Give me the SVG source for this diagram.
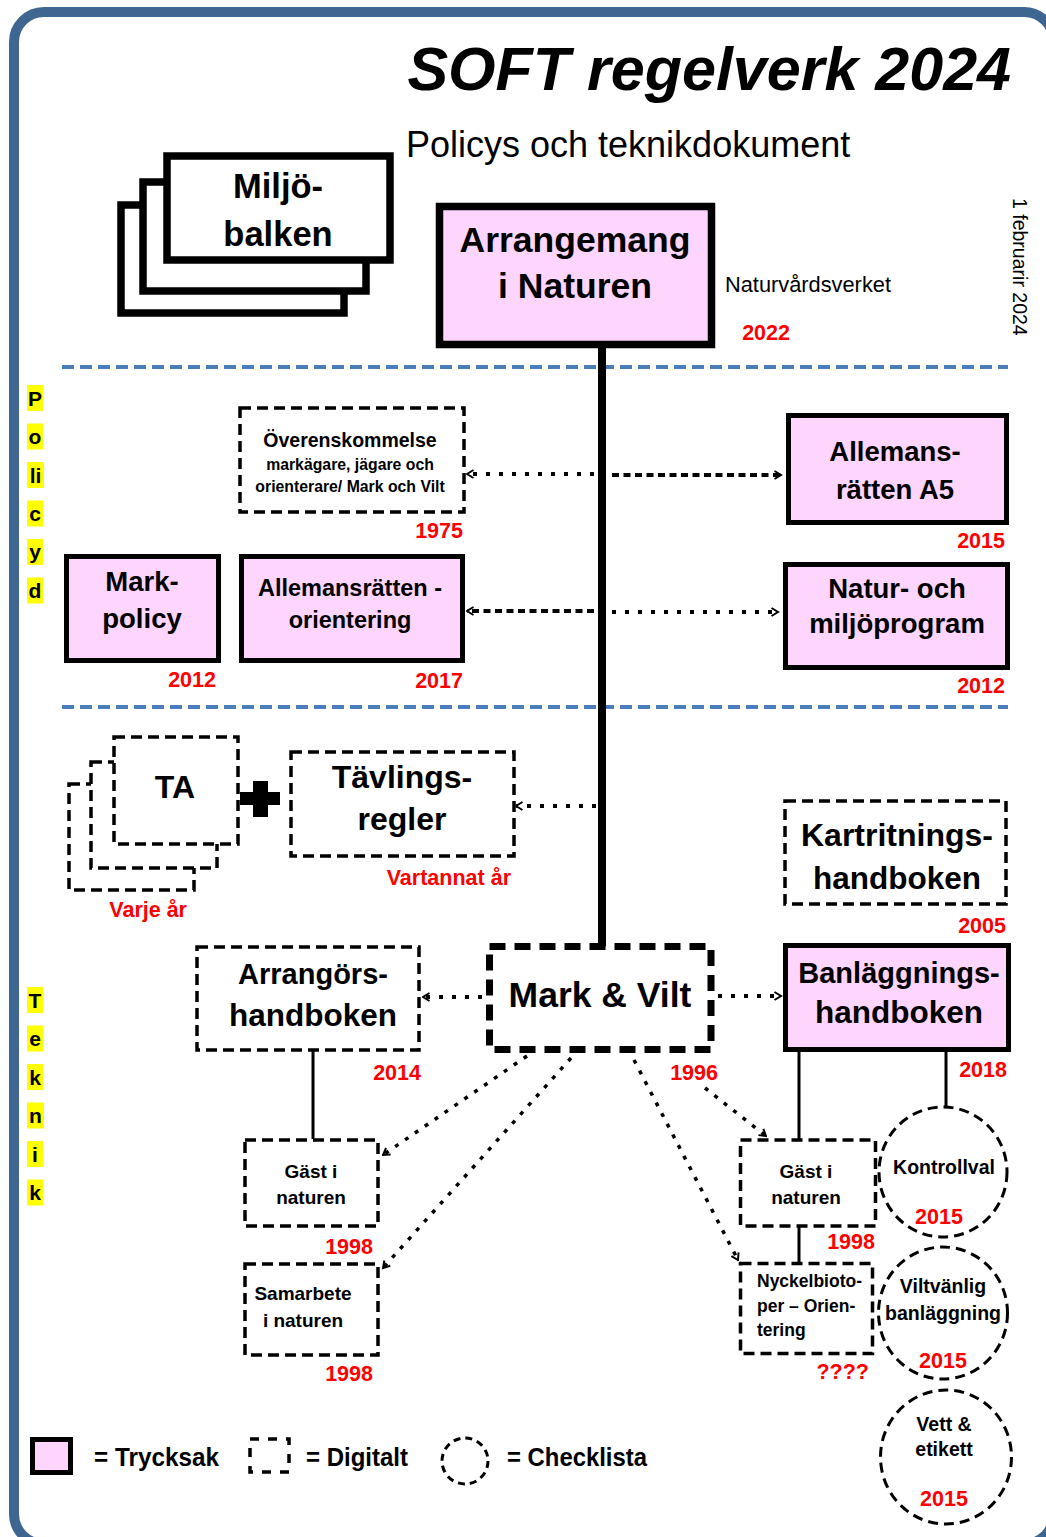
<svg xmlns="http://www.w3.org/2000/svg" width="1046" height="1537" viewBox="0 0 1046 1537">
<style>
.t{font-family:"Liberation Sans",Arial,sans-serif;font-weight:bold;fill:#000;text-anchor:middle}
.yr{font-family:"Liberation Sans",Arial,sans-serif;font-weight:bold;fill:#FF0000;font-size:21.5px;text-anchor:end}
.dbox{fill:#fff;stroke:#000;stroke-width:3.5;stroke-dasharray:11 6}
.pbox{fill:#FDD5FD;stroke:#000;stroke-width:5}
.circ{fill:#fff;stroke:#000;stroke-width:3;stroke-dasharray:10 6}
.dot{fill:none;stroke:#000;stroke-width:4;stroke-dasharray:4 9}
.dash{fill:none;stroke:#000;stroke-width:4;stroke-dasharray:7 4.5}
.diag{fill:none;stroke:#000;stroke-width:3.5;stroke-dasharray:4 8}
.solid{fill:none;stroke:#000;stroke-width:3}
.sep{fill:none;stroke:#4A7EBB;stroke-width:4;stroke-dasharray:12 6}
.yl{fill:#FFFF00}
</style>
<defs>
<marker id="ah" markerUnits="userSpaceOnUse" viewBox="0 0 10 10" refX="8.5" refY="5" markerWidth="10" markerHeight="10" orient="auto">
<path d="M2,1 L8.5,5 L2,9" fill="none" stroke="#000" stroke-width="2"/>
</marker>
</defs>
<rect x="0" y="0" width="1046" height="1537" fill="#fff"/>
<rect x="14" y="12" width="1040" height="1532" rx="30" fill="none" stroke="#3F6591" stroke-width="10"/>

<!-- title -->
<text x="1011" y="90" font-family="Liberation Sans, Arial, sans-serif" font-weight="bold" font-style="italic" font-size="61" text-anchor="end">SOFT regelverk 2024</text>
<text x="406" y="157" font-family="Liberation Sans, Arial, sans-serif" font-size="36">Policys och teknikdokument</text>
<text transform="translate(1013,198) rotate(90)" font-family="Liberation Sans, Arial, sans-serif" font-size="19.5">1 februarir 2024</text>

<!-- separators -->
<line class="sep" x1="62" y1="367" x2="1008" y2="367"/>
<line class="sep" x1="62" y1="707" x2="1008" y2="707"/>

<!-- side labels -->
<g id="label-policyd">
<rect class="yl" x="27" y="385" width="16" height="26"/>
<rect class="yl" x="27" y="423.5" width="16" height="26"/>
<rect class="yl" x="27" y="462" width="17" height="26"/>
<rect class="yl" x="27" y="500.5" width="16" height="26"/>
<rect class="yl" x="27" y="539" width="16" height="26"/>
<rect class="yl" x="27" y="577.5" width="16" height="26"/>
<text class="t" font-size="21" x="35" y="406">P</text>
<text class="t" font-size="21" x="35" y="444">o</text>
<text class="t" font-size="21" x="35.5" y="483">li</text>
<text class="t" font-size="21" x="35" y="521">c</text>
<text class="t" font-size="21" x="35" y="559">y</text>
<text class="t" font-size="21" x="35" y="598">d</text>
</g>
<g id="label-teknik">
<rect class="yl" x="27" y="987" width="16" height="26"/>
<rect class="yl" x="27" y="1025.5" width="16" height="26"/>
<rect class="yl" x="27" y="1064" width="16" height="26"/>
<rect class="yl" x="27" y="1102.5" width="17" height="26"/>
<rect class="yl" x="27" y="1141" width="16" height="26"/>
<rect class="yl" x="27" y="1179.5" width="16" height="26"/>
<text class="t" font-size="21" x="35" y="1008">T</text>
<text class="t" font-size="21" x="35" y="1046">e</text>
<text class="t" font-size="21" x="35" y="1085">k</text>
<text class="t" font-size="21" x="35.5" y="1123">n</text>
<text class="t" font-size="21" x="35" y="1162">i</text>
<text class="t" font-size="21" x="35" y="1200">k</text>
</g>

<!-- connectors -->
<g id="connectors">
<line x1="602" y1="345" x2="602" y2="947" stroke="#000" stroke-width="8"/>
<line class="dot" x1="594" y1="474" x2="467" y2="474" marker-end="url(#ah)"/>
<line class="dash" x1="612" y1="475" x2="781" y2="475" marker-end="url(#ah)"/>
<line class="dash" x1="594" y1="611" x2="467" y2="611" marker-end="url(#ah)"/>
<line class="dot" x1="612" y1="612" x2="778" y2="612" marker-end="url(#ah)"/>
<line class="dot" x1="596" y1="806" x2="516" y2="806" marker-end="url(#ah)"/>
<line class="dot" x1="482" y1="997" x2="423" y2="997" marker-end="url(#ah)"/>
<line class="dot" x1="718" y1="996" x2="781" y2="996" marker-end="url(#ah)"/>
<line class="diag" x1="527" y1="1056" x2="383" y2="1155" marker-end="url(#ah)"/>
<line class="diag" x1="571" y1="1058" x2="383" y2="1268" marker-end="url(#ah)"/>
<line class="diag" x1="634" y1="1060" x2="738" y2="1260" marker-end="url(#ah)"/>
<line class="diag" x1="705" y1="1088" x2="766" y2="1136" marker-end="url(#ah)"/>
<line class="solid" x1="313" y1="1050" x2="313" y2="1139"/>
<line class="solid" x1="799" y1="1050" x2="799" y2="1139"/>
<line class="solid" x1="946" y1="1050" x2="946" y2="1107"/>
<line class="solid" x1="799" y1="1227" x2="799" y2="1262"/>
</g>

<!-- nodes -->
<g id="miljobalken">
<rect x="121" y="205" width="223" height="108" fill="#fff" stroke="#000" stroke-width="7.5"/>
<rect x="143" y="182" width="223" height="109" fill="#fff" stroke="#000" stroke-width="7.5"/>
<rect x="167" y="156" width="223" height="104" fill="#fff" stroke="#000" stroke-width="7.5"/>
<text class="t" font-size="34.5" x="278" y="198">Miljö-</text>
<text class="t" font-size="34.5" x="278" y="246">balken</text>
</g>

<g id="arrangemang">
<rect x="439.5" y="206.5" width="272" height="138" fill="#FDD5FD" stroke="#000" stroke-width="7.5"/>
<text class="t" font-size="35.5" x="575" y="252">Arrangemang</text>
<text class="t" font-size="35.5" x="575" y="298">i Naturen</text>
<text x="725" y="292" font-family="Liberation Sans, Arial, sans-serif" font-size="21.8">Naturvårdsverket</text>
<text class="yr" x="790" y="340">2022</text>
</g>

<g id="overenskommelse">
<rect class="dbox" x="240" y="408" width="224" height="104"/>
<text class="t" font-size="19.5" x="350" y="447">Överenskommelse</text>
<text class="t" font-size="15.8" x="350" y="470">markägare, jägare och</text>
<text class="t" font-size="15.8" x="350" y="492">orienterare/ Mark och Vilt</text>
<text class="yr" x="463" y="538">1975</text>
</g>

<g id="allemansratten-a5">
<rect class="pbox" x="788.5" y="415.5" width="218" height="107"/>
<text class="t" font-size="27.5" x="895" y="461">Allemans-</text>
<text class="t" font-size="27.5" x="895" y="499">rätten A5</text>
<text class="yr" x="1005" y="548">2015</text>
</g>

<g id="markpolicy">
<rect class="pbox" x="66.5" y="556.5" width="152" height="104"/>
<text class="t" font-size="27.5" x="142" y="591">Mark-</text>
<text class="t" font-size="27.5" x="142" y="628">policy</text>
<text class="yr" x="216" y="687">2012</text>
</g>

<g id="allemansratten-orientering">
<rect class="pbox" x="241.5" y="556.5" width="221" height="104"/>
<text class="t" font-size="23.5" x="350" y="596">Allemansrätten -</text>
<text class="t" font-size="23.5" x="350" y="628">orientering</text>
<text class="yr" x="463" y="688">2017</text>
</g>

<g id="natur-och-miljoprogram">
<rect class="pbox" x="785.5" y="564.5" width="222" height="103"/>
<text class="t" font-size="27.5" x="897" y="598">Natur- och</text>
<text class="t" font-size="27.5" x="897" y="633">miljöprogram</text>
<text class="yr" x="1005" y="693">2012</text>
</g>

<g id="ta">
<rect class="dbox" x="69" y="784" width="125" height="106"/>
<rect class="dbox" x="91" y="762" width="126" height="106"/>
<rect class="dbox" x="114" y="737" width="124" height="107"/>
<text class="t" font-size="32" x="175" y="798">TA</text>
<text class="yr" x="187" y="917">Varje år</text>
</g>

<g id="plus">
<rect x="240" y="792" width="40" height="13" fill="#000"/>
<rect x="253" y="781" width="15" height="36" fill="#000"/>
</g>

<g id="tavlingsregler">
<rect class="dbox" x="291" y="752" width="223" height="104"/>
<text class="t" font-size="32" x="402" y="788">Tävlings-</text>
<text class="t" font-size="32" x="402" y="830">regler</text>
<text class="yr" x="511" y="885">Vartannat år</text>
</g>

<g id="kartritningshandboken">
<rect class="dbox" x="785" y="801" width="221" height="103"/>
<text class="t" font-size="32" x="897" y="846">Kartritnings-</text>
<text class="t" font-size="31.5" x="897" y="889">handboken</text>
<text class="yr" x="1006" y="933">2005</text>
</g>

<g id="arrangorshandboken">
<rect class="dbox" x="197" y="947" width="222" height="103"/>
<text class="t" font-size="29" x="313" y="984">Arrangörs-</text>
<text class="t" font-size="31.5" x="313" y="1026">handboken</text>
<text class="yr" x="421" y="1080">2014</text>
</g>

<g id="markvilt">
<rect x="489.5" y="946.5" width="221.5" height="103" fill="#fff" stroke="#000" stroke-width="7" stroke-dasharray="16 9"/>
<text class="t" font-size="35.5" x="600" y="1007">Mark &amp; Vilt</text>
<text class="yr" x="718" y="1080">1996</text>
</g>

<g id="banlaggningshandboken">
<rect class="pbox" x="785.5" y="945.5" width="223" height="104"/>
<text class="t" font-size="29" x="899" y="983">Banläggnings-</text>
<text class="t" font-size="31.5" x="899" y="1023">handboken</text>
<text class="yr" x="1007" y="1077">2018</text>
</g>

<g id="gast-vanster">
<rect class="dbox" x="245" y="1140" width="133" height="86"/>
<text class="t" font-size="19" x="311" y="1178">Gäst i</text>
<text class="t" font-size="19" x="311" y="1204">naturen</text>
<text class="yr" x="373" y="1254">1998</text>
</g>

<g id="samarbete">
<rect class="dbox" x="245" y="1264" width="133" height="91"/>
<text class="t" font-size="19" x="303" y="1300">Samarbete</text>
<text class="t" font-size="19" x="303" y="1327">i naturen</text>
<text class="yr" x="373" y="1381">1998</text>
</g>

<g id="gast-hoger">
<rect class="dbox" x="740.5" y="1140" width="135" height="86"/>
<text class="t" font-size="19" x="806" y="1178">Gäst i</text>
<text class="t" font-size="19" x="806" y="1204">naturen</text>
<text class="yr" x="875" y="1249">1998</text>
</g>

<g id="nyckelbiotoper">
<rect class="dbox" x="740.5" y="1263.5" width="132" height="90"/>
<text class="t" font-size="17.5" x="757" y="1287" style="text-anchor:start">Nyckelbioto-</text>
<text class="t" font-size="17.5" x="757" y="1312" style="text-anchor:start">per – Orien-</text>
<text class="t" font-size="17.5" x="757" y="1336" style="text-anchor:start">tering</text>
<text class="yr" x="869" y="1379">????</text>
</g>

<g id="kontrollval">
<ellipse class="circ" cx="943" cy="1172" rx="64" ry="65"/>
<text class="t" font-size="19.5" x="944" y="1174">Kontrollval</text>
<text class="yr" x="939" y="1224" style="text-anchor:middle">2015</text>
</g>

<g id="viltvanlig">
<ellipse class="circ" cx="943" cy="1313" rx="64.5" ry="66"/>
<text class="t" font-size="19.5" x="943" y="1293">Viltvänlig</text>
<text class="t" font-size="19.5" x="943" y="1320">banläggning</text>
<text class="yr" x="943" y="1368" style="text-anchor:middle">2015</text>
</g>

<g id="vett-etikett">
<ellipse class="circ" cx="946" cy="1457" rx="65.5" ry="67"/>
<text class="t" font-size="19.5" x="944" y="1431">Vett &amp;</text>
<text class="t" font-size="19.5" x="944" y="1456">etikett</text>
<text class="yr" x="944" y="1506" style="text-anchor:middle">2015</text>
</g>

<!-- legend -->
<g id="legend">
<rect class="pbox" x="32.5" y="1439.5" width="38" height="33"/>
<text x="94" y="1466" font-family="Liberation Sans, Arial, sans-serif" font-weight="bold" font-size="26" textLength="125" lengthAdjust="spacingAndGlyphs">= Trycksak</text>
<rect x="250" y="1439" width="39" height="33" fill="none" stroke="#000" stroke-width="3.5" stroke-dasharray="9 9"/>
<text x="306" y="1466" font-family="Liberation Sans, Arial, sans-serif" font-weight="bold" font-size="26" textLength="102" lengthAdjust="spacingAndGlyphs">= Digitalt</text>
<ellipse cx="465" cy="1461" rx="23" ry="23" fill="none" stroke="#000" stroke-width="3" stroke-dasharray="7 5"/>
<text x="507" y="1466" font-family="Liberation Sans, Arial, sans-serif" font-weight="bold" font-size="26" textLength="140" lengthAdjust="spacingAndGlyphs">= Checklista</text>
</g>
</svg>
